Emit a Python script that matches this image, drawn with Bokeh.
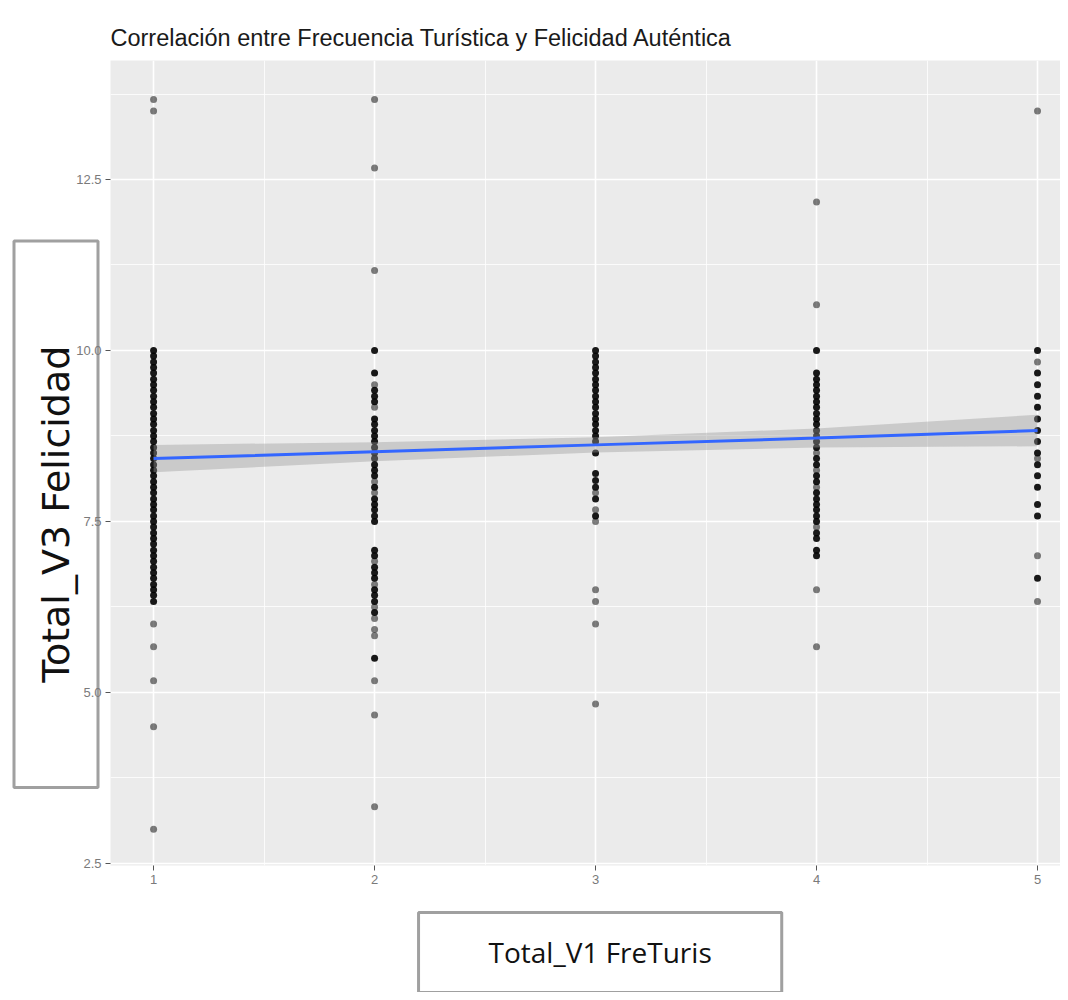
from bokeh.plotting import figure
from bokeh.models import Range1d, FixedTicker, Title, Label
from bokeh.embed import file_html
from bokeh.resources import INLINE

# ---- data ----
title_text = "Correlación entre Frecuencia Turística y Felicidad Auténtica"
x_title = "Total_V1 FreTuris"
y_title = "Total_V3 Felicidad"

x_ticks = [1, 2, 3, 4, 5]
x_minor = [1.5, 2.5, 3.5, 4.5]
y_ticks = [2.5, 5.0, 7.5, 10.0, 12.5]
y_minor = [3.75, 6.25, 8.75, 11.25, 13.75]
y_tick_labels = ["2.5", "5.0", "7.5", "10.0", "12.5"]

# values held by several respondents (dark dots) per frequency level
dense_1 = [10.0, 9.92, 9.83, 9.75, 9.67, 9.58, 9.5, 9.42, 9.33, 9.25, 9.17, 9.08, 9.0,
           8.92, 8.83, 8.75, 8.67, 8.58, 8.5, 8.42, 8.33, 8.25, 8.17, 8.08, 8.0, 7.92,
           7.83, 7.75, 7.67, 7.58, 7.5, 7.42, 7.33, 7.25, 7.17, 7.08, 7.0, 6.92, 6.83,
           6.75, 6.67, 6.58, 6.5, 6.42, 6.33]
single_1 = [13.67, 13.5, 6.0, 5.67, 5.17, 4.5, 3.0]

dense_2 = [10.0, 9.67, 9.42, 9.33, 9.25, 9.0, 8.92, 8.83, 8.75, 8.67, 8.58, 8.5, 8.42,
           8.33, 8.25, 8.17, 8.0, 7.83, 7.75, 7.67, 7.58, 7.5, 7.08, 7.0, 6.83, 6.75,
           6.67, 6.5, 6.42, 6.33, 6.17, 5.5]
single_2 = [13.67, 12.67, 11.17, 9.5, 9.17, 8.08, 7.92, 6.92, 6.58, 6.25, 6.08, 5.92,
            5.83, 5.17, 4.67, 3.33]

dense_3 = [10.0, 9.92, 9.83, 9.75, 9.67, 9.58, 9.5, 9.42, 9.33, 9.25, 9.17, 9.08, 9.0,
           8.92, 8.83, 8.75, 8.67, 8.5, 8.2, 8.1, 8.0, 7.83, 7.58]
single_3 = [7.92, 7.67, 7.5, 6.5, 6.33, 6.0, 4.83]

dense_4 = [10.0, 9.67, 9.58, 9.5, 9.42, 9.33, 9.25, 9.17, 9.08, 9.0, 8.92, 8.83, 8.75,
           8.67, 8.58, 8.42, 8.33, 8.17, 8.08, 7.92, 7.83, 7.75, 7.67, 7.58, 7.5,
           7.33, 7.25, 7.08, 7.0]
single_4 = [12.17, 10.67, 8.5, 8.25, 8.0, 7.42, 6.5, 5.67]

dense_5 = [10.0, 9.67, 9.5, 9.33, 9.17, 9.0, 8.83, 8.67, 8.5, 8.33, 8.17, 8.0, 7.75,
           7.58, 6.67]
single_5 = [13.5, 9.83, 8.42, 7.0, 6.33]

# linear fit with confidence band
fit_x = [1, 2, 3, 4, 5]
fit_y = [8.42, 8.52, 8.62, 8.72, 8.83]
fit_lo = [8.22, 8.38, 8.51, 8.58, 8.60]
fit_hi = [8.62, 8.66, 8.73, 8.86, 9.06]

dense = [dense_1, dense_2, dense_3, dense_4, dense_5]
single = [single_1, single_2, single_3, single_4, single_5]

dx, dy, sx, sy = [], [], [], []
for xv, d, s in zip(x_ticks, dense, single):
    dx += [xv] * len(d)
    dy += d
    sx += [xv] * len(s)
    sy += s

p = figure(width=1060, height=992, output_backend="svg", toolbar_location=None,
           x_range=Range1d(0.805, 5.104), y_range=Range1d(2.47, 14.24),
           min_border_left=110, min_border_right=0, min_border_bottom=127,
           min_border_top=60)

p.title.text = title_text
p.title.text_font = "Liberation Sans"
p.title.text_font_size = "23.5px"
p.title.text_font_style = "normal"
p.title.text_color = "#1a1a1a"
p.title.align = "left"
p.title.standoff = 20

p.background_fill_color = "#EBEBEB"
p.border_fill_color = "white"
p.outline_line_color = None

p.xaxis.ticker = FixedTicker(ticks=x_ticks, minor_ticks=x_minor)
p.yaxis.ticker = FixedTicker(ticks=y_ticks, minor_ticks=y_minor)
p.yaxis.major_label_overrides = {t: l for t, l in zip(y_ticks, y_tick_labels)}

for ax in (p.xaxis, p.yaxis):
    ax.axis_line_color = None
    ax.major_tick_line_color = "#555555"
    ax.major_tick_in = 0
    ax.major_tick_out = 5
    ax.minor_tick_line_color = None
    ax.major_label_text_color = "#7a7a7a"
    ax.major_label_text_font = "Liberation Sans"
    ax.major_label_text_font_size = "13px"
    ax.major_label_standoff = 4
# y tick labels drawn above the boxed y title
p.yaxis.level = "overlay"

for g in (p.xgrid, p.ygrid):
    g.grid_line_color = "white"
    g.grid_line_width = 1.6
    g.minor_grid_line_color = "white"
    g.minor_grid_line_width = 0.8

p.scatter(sx, sy, size=7, color="black", alpha=0.5, line_width=0)
p.scatter(dx, dy, size=7, color="black", alpha=0.9, line_width=0)

p.varea(x=fit_x, y1=fit_lo, y2=fit_hi, fill_color="#999999", fill_alpha=0.4)
p.line(fit_x, fit_y, line_color="#3366FF", line_width=3)

# boxed y title (non-breaking spaces lengthen the vertical box)
nb = "\u00a0" * 8
ytitle = Title(text=nb + y_title + nb, align="left", offset=78, standoff=-49,
               text_font="DejaVu Sans", text_font_size="38px",
               text_font_style="normal", text_color="#111111",
               background_fill_color="white", border_line_color="#a0a0a0",
               border_line_width=3,
               padding=dict(left=8, right=8, top=20, bottom=20))
p.add_layout(ytitle, "left")

# boxed x title, placed below the axis
xlab = Label(x=2.199, y=1.783, text=x_title, text_align="left", text_baseline="top",
             text_font="Open Sans", text_font_size="28px", text_color="#111111",
             background_fill_color="white", border_line_color="#a0a0a0",
             border_line_width=3,
             padding=dict(left=70, right=70, top=21, bottom=21))
p.add_layout(xlab, "below")

open("out.html", "w").write(file_html(p, INLINE))
